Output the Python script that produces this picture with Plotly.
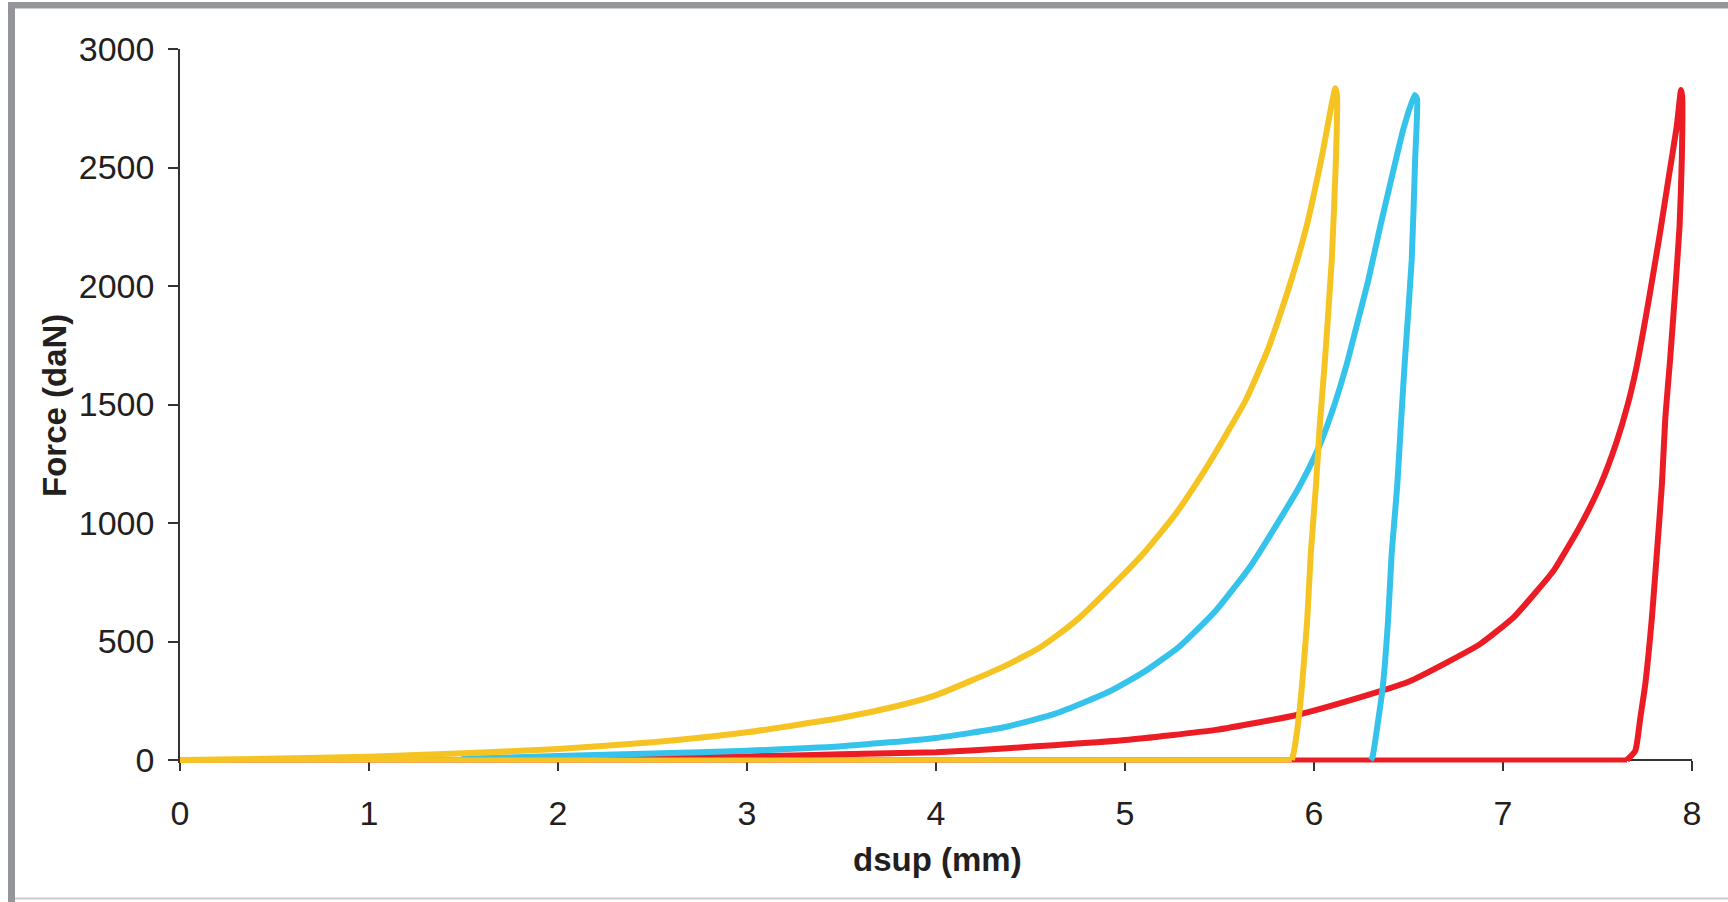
import plotly.graph_objects as go

# Displacement (mm) and force (daN) for three load / unload cycles
yellow_x = [0.00, 0.30, 0.60, 1.00, 1.50, 2.00, 2.50, 3.00, 3.50, 3.80, 4.00, 4.36, 4.55, 4.735,
            5.00, 5.107, 5.26, 5.42, 5.54, 5.64, 5.76, 5.87, 5.96, 6.04, 6.113,
            6.122, 6.116, 6.094, 6.058, 6.03, 6.01, 5.983, 5.964, 5.936, 5.918, 5.895, 5.883]
yellow_f = [0, 3, 7, 14, 28, 46, 75, 117, 178, 229, 274, 395, 475, 584,
            790, 880, 1030, 1220, 1380, 1520, 1740, 2000, 2250, 2540, 2834,
            2800, 2532, 2110, 1688, 1406, 1153, 872, 591, 309, 169, 40, 0]
# zero-force return after unloading
yellow_base_x = [5.883, 0.00]
yellow_base_f = [0, 0]

cyan_x = [1.49, 2.00, 2.50, 3.00, 3.50, 4.00, 4.36, 4.64, 4.92, 5.107, 5.29, 5.48, 5.666,
          5.80, 5.92, 6.02, 6.10, 6.173, 6.225, 6.286, 6.35, 6.40, 6.472, 6.532,
          6.545, 6.535, 6.517, 6.481, 6.46, 6.44, 6.411, 6.392, 6.364, 6.34, 6.31, 6.30]
cyan_f = [5, 17, 27, 39, 58, 93, 138, 198, 290, 375, 480, 630, 820,
          990, 1150, 1310, 1480, 1670, 1830, 2020, 2250, 2420, 2660, 2806,
          2790, 2532, 2110, 1688, 1420, 1153, 872, 591, 309, 169, 14, 0]

red_x = [1.85, 2.50, 3.00, 3.50, 4.00, 4.36, 5.00, 5.48, 5.908, 6.225, 6.50, 6.704, 6.88,
         7.056, 7.18, 7.268, 7.41, 7.515, 7.60, 7.66, 7.707, 7.769, 7.83, 7.875, 7.919, 7.942,
         7.948, 7.946, 7.934, 7.91, 7.884, 7.859, 7.841, 7.815, 7.788, 7.753, 7.727, 7.70, 7.656]
red_f = [8, 11, 15, 24, 33, 49, 84, 127, 190, 260, 330, 412, 490,
         602, 714, 799, 990, 1160, 1340, 1500, 1660, 1930, 2220, 2450, 2672, 2827,
         2800, 2531, 2250, 1969, 1688, 1446, 1165, 883, 602, 321, 180, 39, 0]
red_base_x = [7.656, 0.00]
red_base_f = [0, 0]

x_ticks = [0, 1, 2, 3, 4, 5, 6, 7, 8]
y_ticks = [0, 500, 1000, 1500, 2000, 2500, 3000]

RED, CYAN, YELLOW = "#EC1C24", "#35C3EC", "#F5C423"
series = [
    ("red", red_x, red_f, red_base_x, red_base_f, RED),
    ("cyan", cyan_x, cyan_f, None, None, CYAN),
    ("yellow", yellow_x, yellow_f, yellow_base_x, yellow_base_f, YELLOW),
]

W, H = 1728, 902
L, R, T, B = 180, 36, 49, 139
Y_LOW = -12.66  # keeps the zero-force baseline fully visible

fig = go.Figure()
for name, xs, fs, bx, bf, col in series:
    if bx is not None:
        fig.add_trace(go.Scatter(x=bx, y=bf, mode="lines", name=name + " return",
                                 line=dict(color=col, width=5), hoverinfo="skip"))
    fig.add_trace(go.Scatter(x=xs, y=fs, mode="lines", name=name,
                             line=dict(color=col, width=6, shape="spline", smoothing=0.5),
                             hoverinfo="skip"))

axis_font = dict(family="Liberation Sans, Arial, sans-serif", size=34, color="#231F20")

fig.update_layout(
    width=W, height=H,
    margin=dict(l=L, r=R, t=T, b=B),
    paper_bgcolor="white", plot_bgcolor="white",
    showlegend=False,
    xaxis=dict(range=[0, 8], tickvals=x_ticks, ticktext=[str(v) for v in x_ticks],
               showgrid=False, zeroline=False, showline=True, linecolor="#333333",
               linewidth=1.5, ticks="outside", ticklen=10, tickwidth=1.5,
               tickcolor="#333333", tickfont=axis_font, anchor="free",
               position=-Y_LOW / (3000 - Y_LOW), layer="below traces",
               ticklabelstandoff=13),
    yaxis=dict(range=[Y_LOW, 3000], tickvals=y_ticks, ticktext=[str(v) for v in y_ticks],
               showgrid=False, zeroline=False, showline=True, linecolor="#333333",
               linewidth=1.5, ticks="outside", ticklen=10, tickwidth=1.5,
               tickcolor="#333333", tickfont=axis_font, layer="below traces",
               ticklabelstandoff=7),
)

pw, ph = W - L - R, H - T - B


def px(x):
    return (x - L) / pw


def py(y):
    return (H - B - y) / ph


# page frame: grey band along the top and left, thin rule at the bottom
frame = [
    dict(x0=px(8), x1=px(W), y0=py(2), y1=py(8.5), color="#939598"),
    dict(x0=px(8), x1=px(15), y0=py(2), y1=py(H), color="#939598"),
    dict(x0=px(15), x1=px(W), y0=py(897.5), y1=py(899.5), color="#C9CACC"),
]
for f in frame:
    fig.add_shape(type="rect", xref="paper", yref="paper", x0=f["x0"], x1=f["x1"],
                  y0=f["y0"], y1=f["y1"], fillcolor=f["color"], line=dict(width=0),
                  layer="above")

title_font = dict(family="Liberation Sans, Arial, sans-serif", size=33, color="#231F20")
fig.add_annotation(text="<b>dsup (mm)</b>", xref="paper", yref="paper",
                   x=px(937), y=py(859), xanchor="center", yanchor="middle",
                   showarrow=False, font=title_font)
fig.add_annotation(text="<b>Force (daN)</b>", xref="paper", yref="paper",
                   x=px(54), y=py(406), xanchor="center", yanchor="middle",
                   textangle=-90, showarrow=False, font=title_font)

fig.write_html("out.html")
